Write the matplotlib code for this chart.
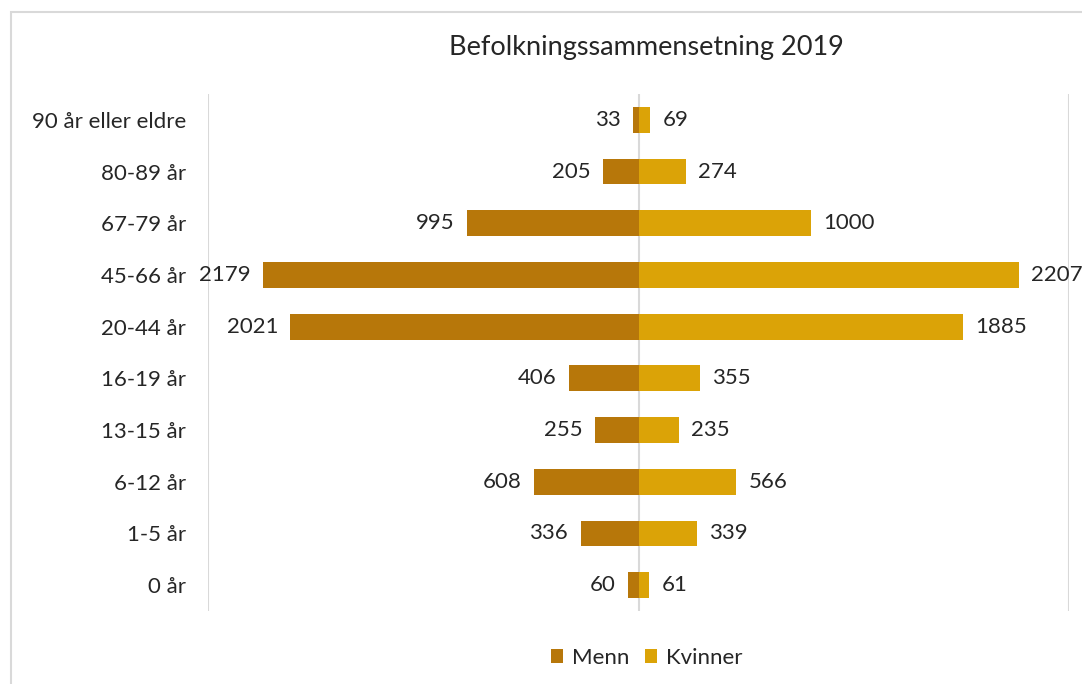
import matplotlib.pyplot as plt
from matplotlib.patches import Rectangle

plt.rcParams['font.family'] = ['Lato', 'DejaVu Sans']

ages = ['0 år', '1-5 år', '6-12 år', '13-15 år', '16-19 år',
        '20-44 år', '45-66 år', '67-79 år', '80-89 år', '90 år eller eldre']
menn = [60, 336, 608, 255, 406, 2021, 2179, 995, 205, 33]
kvinner = [61, 339, 566, 235, 355, 1885, 2207, 1000, 274, 69]

c_menn = '#B7770A'
c_kvinner = '#DBA307'
fs = 16

fig = plt.figure(figsize=(10.82, 6.84), dpi=100)
ax = fig.add_axes([208 / 1082, 1 - 611 / 684, 861 / 1082, 517 / 684])

y = list(range(len(ages)))
ax.barh(y, [-m for m in menn], height=0.5, color=c_menn, label='Menn')
ax.barh(y, kvinner, height=0.5, color=c_kvinner, label='Kvinner')

for yi, m, k in zip(y, menn, kvinner):
    ax.text(-m - 72, yi, str(m), ha='right', va='center', fontsize=fs, color='#262626')
    ax.text(k + 72, yi, str(k), ha='left', va='center', fontsize=fs, color='#262626')

ax.set_xlim(-2500, 2500)
ax.set_ylim(-0.5, len(ages) - 0.5)
ax.set_xticks([-2500, 0, 2500])
ax.set_xticklabels([])
ax.tick_params(axis='x', length=0)
ax.tick_params(axis='y', length=0, labelsize=fs, labelcolor='#262626', pad=16)
ax.set_yticks(y)
ax.set_yticklabels(ages)
ax.grid(axis='x', color='#D9D9D9', linewidth=1.5)
ax.set_axisbelow(True)
for s in ax.spines.values():
    s.set_visible(False)

fig.text(0.597, 1 - 47 / 684, 'Befolkningssammensetning 2019', ha='center', va='center',
         fontsize=19.5, color='#262626')

fig.legend(loc='center', bbox_to_anchor=(0.598, 1 - 658 / 684), ncol=2, frameon=False,
           fontsize=fs, handlelength=0.55, handleheight=0.55, handletextpad=0.4,
           columnspacing=0.7, labelcolor='#262626')

fig.patches.append(Rectangle((11 / 1082, -0.1), 1.2, 1.1 - 12 / 684,
                             transform=fig.transFigure, fill=False,
                             edgecolor='#D9D9D9', linewidth=1.5))

fig.savefig('out.png', dpi=100)
